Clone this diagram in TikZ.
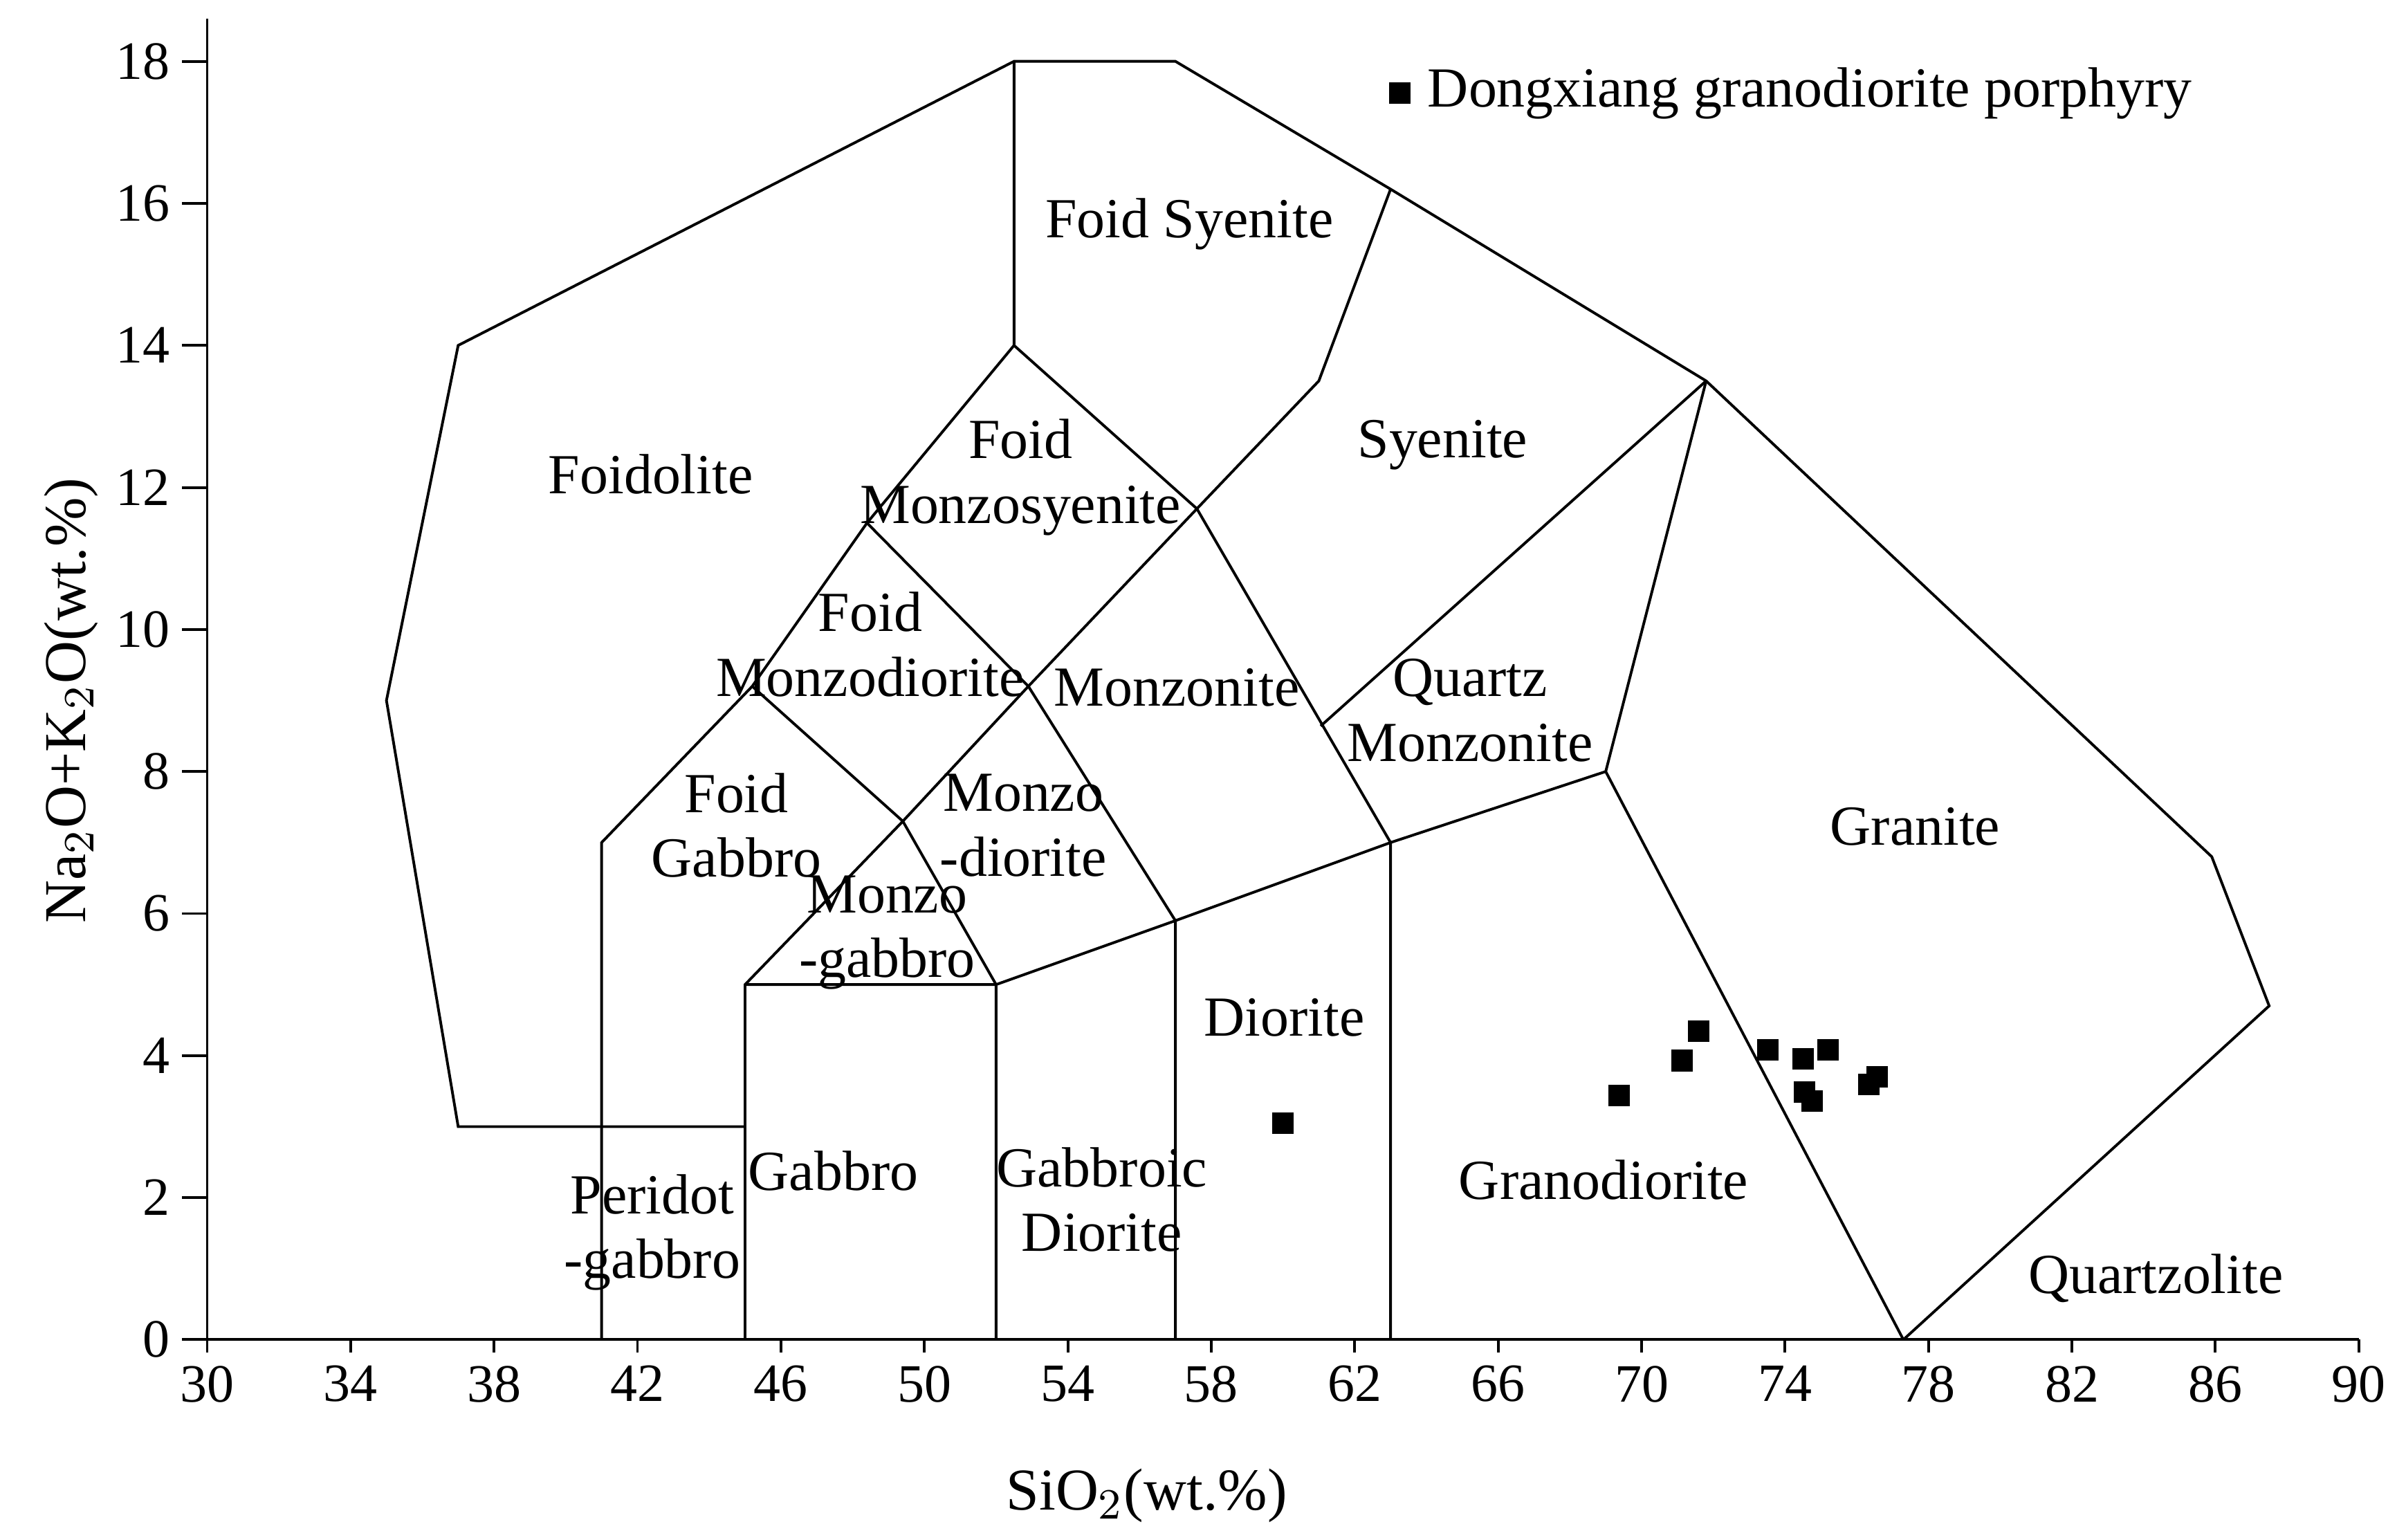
\documentclass[tikz,border=0pt]{standalone}
\usepackage{fontspec}
\setmainfont{Liberation Serif}
\begin{document}
\begin{tikzpicture}[
  lab/.style={font=\fontsize{10.5}{12}\selectfont, align=center, inner sep=0pt},
  tick/.style={font=\fontsize{10}{12}\selectfont, inner sep=0pt},
  pt/.style={fill=black, minimum size=0.14cm, inner sep=0pt, draw=none}]
\useasboundingbox (0,0) rectangle (15.68,10.035);
\begin{scope}[shift={(1.35,1.305)}, x=0.2337cm, y=0.4628cm, line width=0.5pt]
\begin{scope}[xshift=-30*0.2337cm]
% axes
\draw (30,18.6) -- (30,0) -- (90,0);
\foreach \v in {30,34,...,90} {\draw (\v,0) -- (\v,-0.18); \node[tick, anchor=north] at (\v,-0.35) {\v};}
\foreach \v in {0,2,...,18} {\draw (30,\v) -- (29.3,\v); \node[tick, anchor=east] at (29,\v) {\v};}
\node[font=\fontsize{11}{13}\selectfont] (xl) at (56.2,-2.2) {SiO$_2$(wt.\%)};
\node[font=\fontsize{11}{13}\selectfont, rotate=90] (yl) at (26.2,9.0) {Na$_2$O+K$_2$O(wt.\%)};
% outer boundary
\draw (45,3) -- (37,3) -- (35,9) -- (37,14) -- (52.5,18) -- (57,18) -- (63,16.2) -- (71.8,13.5) -- (85.9,6.8) -- (87.5,4.7) -- (77.3,0);
\draw (77.3,0) -- (69,8) -- (71.8,13.5);
\draw (52.5,18) -- (52.5,14) -- (57.6,11.7);
\draw (63,16.2) -- (61,13.5) -- (57.6,11.7) -- (63,7) -- (63,0);
\draw (61.05,8.64) -- (71.8,13.5);
\draw (52.5,14) -- (48.4,11.5) -- (45.2,9.2) -- (41,7) -- (41,0);
\draw (48.4,11.5) -- (52.9,9.2) -- (57,5.9) -- (57,0);
\draw (45.2,9.2) -- (49.4,7.3) -- (52,5) -- (52,0);
\draw (45,0) -- (45,5) -- (49.4,7.3) -- (52.9,9.2) -- (57.6,11.7);
\draw (45,5) -- (52,5) -- (57,5.9) -- (63,7) -- (69,8);
% labels
\node[lab] at (57.39,15.71) {Foid Syenite};
\node[lab] at (42.37,12.19) {Foidolite};
\node[lab] at (52.68,12.14) {Foid\\Monzosyenite};
\node[lab] at (64.45,12.6) {Syenite};
\node[lab] at (48.49,9.79) {Foid\\Monzodiorite};
\node[lab] at (57.04,9.18) {Monzonite};
\node[lab] at (65.22,8.86) {Quartz\\Monzonite};
\node[lab] at (77.63,7.22) {Granite};
\node[lab] at (44.76,7.24) {Foid\\Gabbro};
\node[lab] at (52.76,7.24) {Monzo\\-diorite};
\node[lab] at (48.96,5.73) {Monzo\\-gabbro};
\node[lab] at (60.04,4.54) {Diorite};
\node[lab] at (47.46,2.38) {Gabbro};
\node[lab] at (54.95,1.97) {Gabbroic\\Diorite};
\node[lab] at (42.41,1.51) {Peridot\\-gabbro};
\node[lab] at (68.94,2.25) {Granodiorite};
\node[lab] at (84.34,0.86) {Quartzolite};
% legend
\node[pt] (lg) at (63.25,17.55) {};
\node[lab, anchor=west] (lgt) at (64.0,17.55) {Dongxiang granodiorite porphyry};
% data
\foreach \px/\py [count=\i] in {60.0/3.05,69.37/3.44,71.12/3.93,71.59/4.34,73.52/4.08,74.50/3.95,74.54/3.49,74.76/3.36,75.19/4.08,76.34/3.59,76.56/3.70}
  \node[pt] (d\i) at (\px,\py) {};
\end{scope}
\end{scope}
\end{tikzpicture}
\end{document}
